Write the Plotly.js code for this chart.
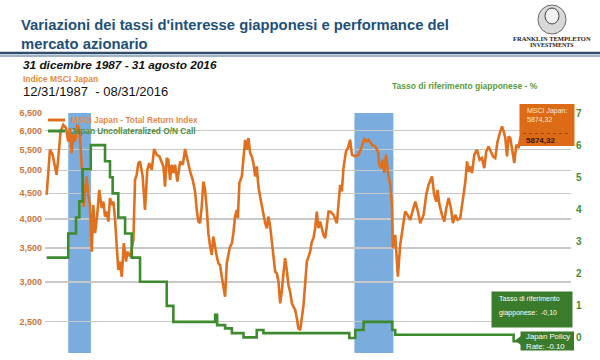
<!DOCTYPE html>
<html><head><meta charset="utf-8">
<script src="https://cdn.plot.ly/plotly-3.0.1.min.js"></script>
<style>html,body{margin:0;padding:0;background:#fff;}#chart{width:600px;height:360px;}</style>
</head><body><div id="chart"></div>
<script>
// ---------- DATA ----------
const msciYears = [1987.99,1988.19,1988.35,1988.49,1988.59,1988.69,1988.83,1988.99,
1989.16,1989.29,1989.40,1989.50,1989.60,1989.70,1989.84,1989.96,
1990.04,1990.16,1990.22,1990.30,1990.39,1990.50,1990.60,1990.71,1990.80,1990.91,
1991.04,1991.16,1991.31,1991.41,1991.51,1991.61,1991.71,1991.81,1991.91,
1992.01,1992.11,1992.21,1992.31,1992.41,1992.52,1992.64,1992.72,1992.78,1992.85,
1993.02,1993.22,1993.32,1993.42,1993.52,1993.62,1993.78,1993.92,
1994.06,1994.18,1994.33,1994.47,1994.63,1994.79,1994.93,
1995.03,1995.13,1995.23,1995.33,1995.43,1995.53,1995.63,1995.73,1995.87,
1996.04,1996.20,1996.34,1996.48,1996.64,1996.80,1996.94,
1997.04,1997.14,1997.24,1997.34,1997.44,1997.54,1997.65,1997.74,1997.85,1997.95,
1998.04,1998.15,1998.25,1998.35,1998.45,1998.55,1998.65,1998.75,1998.85,1998.95,
1999.05,1999.16,1999.25,1999.35,1999.46,1999.52,1999.61,1999.76,1999.86,1999.96,
2000.06,2000.16,2000.26,2000.36,2000.46,2000.56,2000.66,2000.76,2000.86,2000.97,
2001.06,2001.17,2001.27,2001.36,2001.47,2001.57,2001.67,2001.77,2001.87,2001.97,
2002.07,2002.17,2002.27,2002.37,2002.47,2002.57,2002.67,2002.78,2002.87,2002.98,
2003.08,2003.17,2003.28,2003.48,2003.68,2003.88,2003.98,
2004.08,2004.18,2004.28,2004.38,2004.48,2004.68,2004.79,2004.89,2004.99,
2005.09,2005.29,2005.49,2005.69,2005.79,2005.89,
2006.04,2006.16,2006.29,2006.40,2006.60,2006.80,
2007.00,2007.16,2007.26,2007.40,2007.60,2007.80,2007.97,
2008.04,2008.17,2008.24,2008.36,2008.45,2008.57,2008.71,2008.81,2008.87,
2009.01,2009.07,2009.17,2009.31,2009.45,2009.61,2009.75,2009.92,
2010.05,2010.22,2010.38,2010.52,2010.72,2010.88,
2011.02,2011.23,2011.36,2011.49,2011.56,2011.68,2011.83,2011.97,
2012.09,2012.23,2012.37,2012.49,2012.63,2012.77,2012.93,
2013.10,2013.24,2013.34,2013.43,2013.54,2013.64,2013.78,2013.94,
2014.10,2014.24,2014.38,2014.50,2014.64,2014.79,2014.91,
2015.04,2015.18,2015.35,2015.45,2015.55,2015.65,2015.75,2015.85,2015.95,
2016.05,2016.19,2016.31,2016.45,2016.55,2016.66];

const msciValues = [4470,5494,5369,5089,4898,5288,5974,6161,
6067,5705,6067,5411,5884,5705,6161,6020,
5537,4825,4234,4573,4861,4470,4267,3445,4267,3749,
4077,4573,4204,4332,4045,4140,3954,4402,4267,
4332,4015,3553,3167,3291,3071,3580,3393,3291,3445,
3367,3635,4786,4898,5168,5206,4861,4172,
5012,5168,5012,5511,5369,5327,5206,
5089,4642,5288,5247,4786,5128,4937,5128,4750,
5206,5128,5511,5247,4973,4786,4537,
4172,3954,3925,4234,4750,4573,4172,3749,3526,3393,
3691,3472,3367,3267,3241,3071,2934,2803,3267,3420,
3526,3580,3749,4045,4172,4015,4715,4861,5327,5750,
5494,5796,5411,5327,5168,4861,5089,4642,4435,4234,
4077,3925,3835,4045,3864,3635,3420,3143,3120,3002,
2719,2868,3120,3343,3167,2957,2868,2719,2677,2637,
2538,2425,2406,2698,3291,3445,3607,
3664,3835,4140,3835,3954,3720,3664,3892,4140,
4140,4077,3925,4680,4537,5050,
5451,5537,5750,5369,5327,5369,
5578,5796,5705,5750,5622,5578,5451,
5128,5050,5247,4937,5369,4973,4680,4267,3499,
3720,3445,3071,3553,3835,4140,4077,3985,
4140,4332,4140,3925,4077,4470,
4680,4861,4470,4332,4573,4267,4077,3954,
4204,4402,4204,3925,4077,3985,4015,
4402,4750,5206,4973,5089,4937,5369,5494,
5247,5288,5050,5451,5578,5451,5327,
5288,5705,5974,6113,5974,5796,5327,5839,5796,
5537,5168,5622,5537,5796,5874.32];

const rateYears = [1987.99,1989.29,1989.76,1989.96,1990.16,1990.65,1991.51,1991.81,1991.97,
1992.31,1992.72,1993.12,1993.62,1995.23,1995.63,1998.15,1998.27,1998.75,1999.16,1999.86,
2000.66,2001.06,2006.24,2006.60,2007.10,2008.83,2009.01,2016.15,2016.66];
const rateValues = [2.5,3.25,3.75,4.25,5.25,6.0,5.5,5.0,4.5,
3.75,3.25,2.5,1.75,1.0,0.5,0.72,0.4,0.3,0.15,0.02,
0.25,0.15,0.0,0.25,0.5,0.25,0.1,-0.1,-0.1];

const tighteningStart = [1989.29, 2006.55];
const tighteningEnd   = [1990.66, 2008.90];

const leftTickValues = [2500,3000,3500,4000,4500,5000,5500,6000,6500];
const leftTickLabels = ['2,500','3,000','3,500','4,000','4,500','5,000','5,500','6,000','6,500'];
const rightTickValues = [0,1,2,3,4,5,6,7];
const rightTickLabels = ['0','1','2','3','4','5','6','7'];
const seriesNames = ['MSCI Japan - Total Return Index','Japan Uncollateralized O/N Call'];

// ---------- STYLE ----------
const ORANGE = '#e0701e', GREEN = '#3e8a2e', BOXGREEN = '#3b7c2c', BLUE = '#7aaddd';
const SANS = '"Liberation Sans", Arial, sans-serif';
const M = {l:45, r:29, t:113, b:7};
const PW = 600 - M.l - M.r, PH = 360 - M.t - M.b;
const px = v => (v - M.l) / PW;
const py = v => (360 - M.b - v) / PH;

const fmtIt = (v) => v.toFixed(2).replace('.', ',');
const lastMsci = msciValues[msciValues.length - 1];
const lastRate = rateValues[rateValues.length - 1];

const traces = [
  {x: msciYears, y: msciValues, name: seriesNames[0], type: 'scatter', mode: 'lines',
   line: {color: ORANGE, width: 2.6}, yaxis: 'y', showlegend: false, hoverinfo: 'skip'},
  {x: rateYears, y: rateValues, name: seriesNames[1], type: 'scatter', mode: 'lines',
   line: {color: GREEN, width: 2.6, shape: 'hv'}, yaxis: 'y2', showlegend: false, hoverinfo: 'skip'}
];

const shapes = [];
tighteningStart.forEach((s, i) => shapes.push({type: 'rect', xref: 'x', yref: 'paper',
  x0: s, x1: tighteningEnd[i], y0: 0, y1: 1, fillcolor: BLUE, line: {width: 0}, layer: 'below'}));
// header divider
shapes.push({type: 'line', xref: 'paper', yref: 'paper', x0: px(0), x1: px(600), y0: py(53), y1: py(53), line: {color: '#2f4d6d', width: 2.5}});
shapes.push({type: 'line', xref: 'paper', yref: 'paper', x0: px(0), x1: px(600), y0: py(56), y1: py(56), line: {color: '#9fb3c8', width: 2}});
// legend symbols
shapes.push({type: 'line', xref: 'paper', yref: 'paper', x0: px(48), x1: px(65), y0: py(120), y1: py(120), line: {color: ORANGE, width: 3}});
shapes.push({type: 'line', xref: 'paper', yref: 'paper', x0: px(48), x1: px(65), y0: py(131), y1: py(131), line: {color: GREEN, width: 3}});
// orange value box
shapes.push({type: 'rect', xref: 'paper', yref: 'paper', x0: px(519.5), x1: px(574.5), y0: py(146), y1: py(104), fillcolor: '#dd6a14', line: {width: 0}});
shapes.push({type: 'line', xref: 'paper', yref: 'paper', x0: px(523), x1: px(571), y0: py(133.5), y1: py(133.5), line: {color: 'rgba(80,30,0,0.45)', width: 1, dash: 'dot'}});
// green rate box
shapes.push({type: 'rect', xref: 'paper', yref: 'paper', x0: px(491.5), x1: px(572.5), y0: py(327.5), y1: py(291.5), fillcolor: BOXGREEN, line: {width: 0}});
// policy rate tag
shapes.push({type: 'rect', xref: 'paper', yref: 'paper', x0: px(520.5), x1: px(574), y0: py(350.5), y1: py(331.5), fillcolor: BOXGREEN, line: {width: 0}});
shapes.push({type: 'path', xref: 'paper', yref: 'paper',
  path: `M${px(521)},${py(336)} L${px(515)},${py(340.5)} L${px(521)},${py(345)} Z`, fillcolor: BOXGREEN, line: {width: 0}});
// logo portrait (simplified)
shapes.push({type: 'circle', xref: 'paper', yref: 'paper', x0: px(538), x1: px(566), y0: py(34), y1: py(5), fillcolor: '#d9d9d9', line: {color: '#6a6a6a', width: 1}});
shapes.push({type: 'circle', xref: 'paper', yref: 'paper', x0: px(545), x1: px(559), y0: py(24), y1: py(8), fillcolor: '#f2f2f2', line: {color: '#444', width: 1}});

const ann = (x, y, text, font, opts) => Object.assign({xref: 'paper', yref: 'paper', x: px(x), y: py(y), text: text,
  showarrow: false, xanchor: 'left', yanchor: 'middle', align: 'left', font: font}, opts || {});

const annotations = [
  ann(21, 65, '<i>31 dicembre 1987 - 31 agosto 2016</i>', {family: SANS, size: 11.8, color: '#111', weight: 700}),
  ann(21, 79.5, 'Indice MSCI Japan', {family: SANS, size: 8.5, color: '#e28a3c', weight: 700}),
  ann(21, 91.5, '12/31/1987  - 08/31/2016', {family: SANS, size: 13, color: '#111'}),
  ann(540, 86, 'Tasso di riferimento giapponese - %', {family: SANS, size: 8.5, color: '#5a9b3a', weight: 700}, {xanchor: 'right'}),
  ann(69, 120, seriesNames[0], {family: SANS, size: 8.3, color: '#e8894a', weight: 700}),
  ann(69, 131, seriesNames[1], {family: SANS, size: 8.3, color: '#4d8c3c', weight: 700}),
  ann(525, 114.5, 'MSCI Japan:<br>' + fmtIt(lastMsci), {family: SANS, size: 7, color: '#ffe9d8'}),
  ann(524, 140.5, '<b>' + fmtIt(lastMsci) + '</b>', {family: SANS, size: 8, color: '#3a1600'}),
  ann(497, 298.5, 'Tasso di riferimento', {family: SANS, size: 7, color: '#ffffff'}),
  ann(497, 313, 'giapponese:&nbsp;&nbsp;' + fmtIt(lastRate), {family: SANS, size: 7, color: '#ffffff'}),
  ann(523.5, 341, 'Japan Policy<br>Rate: ' + lastRate.toFixed(2), {family: SANS, size: 7.8, color: '#ffffff'}),
  ann(552, 38, 'FRANKLIN TEMPLETON', {family: '"Liberation Serif", "DejaVu Serif", serif', size: 6.5, color: '#222', weight: 700}, {xanchor: 'center'}),
  ann(552, 45, 'INVESTMENTS', {family: '"Liberation Serif", "DejaVu Serif", serif', size: 6, color: '#222', weight: 700}, {xanchor: 'center'})
];

const layout = {
  width: 600, height: 360,
  margin: {l: M.l, r: M.r, t: M.t, b: M.b, pad: 0},
  paper_bgcolor: '#ffffff', plot_bgcolor: '#ffffff',
  showlegend: false,
  title: {text: 'Variazioni dei tassi d\'interesse giapponesi e performance del<br>mercato azionario',
    xref: 'container', yref: 'container', x: 21/600, xanchor: 'left', y: 1 - 30/360, yanchor: 'top',
    font: {family: SANS, size: 14.8, color: '#1f5079', weight: 700}},
  xaxis: {range: [1987.89, 2019.61], showticklabels: false, showgrid: false, zeroline: false, showline: false, ticks: '', fixedrange: true},
  yaxis: {type: 'log', range: [Math.log10(2166), Math.log10(6500)], tickvals: leftTickValues, ticktext: leftTickLabels,
    showgrid: true, gridcolor: '#c8c8c8', gridwidth: 1.5, zeroline: false, showline: false, ticks: '',
    tickfont: {family: SANS, size: 9, color: '#c9773c', weight: 700}, ticklabelstandoff: 2},
  yaxis2: {overlaying: 'y', side: 'right', range: [-0.467, 7.0], tickvals: rightTickValues, ticktext: rightTickLabels,
    showgrid: false, zeroline: false, showline: false, ticks: '',
    tickfont: {family: SANS, size: 10, color: '#4a8a33', weight: 700}, ticklabelstandoff: 4},
  shapes: shapes,
  annotations: annotations
};

Plotly.newPlot('chart', traces, layout, {displayModeBar: false, staticPlot: true});
</script>
</body></html>
